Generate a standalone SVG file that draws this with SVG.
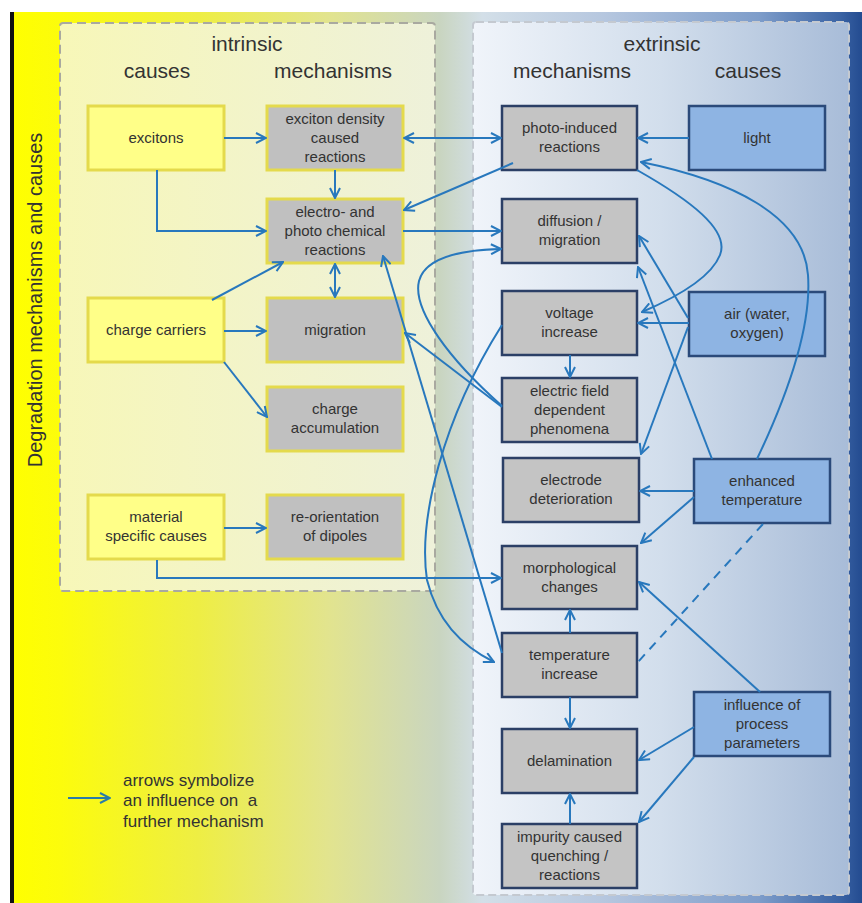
<svg xmlns="http://www.w3.org/2000/svg" width="862" height="903" viewBox="0 0 862 903">
<defs>
<linearGradient id="bg" x1="0" y1="0" x2="862" y2="0" gradientUnits="userSpaceOnUse">
<stop offset="0.016" stop-color="#ffff00"/>
<stop offset="0.07" stop-color="#fcfc0c"/>
<stop offset="0.23" stop-color="#eeee44"/>
<stop offset="0.38" stop-color="#e2e48e"/>
<stop offset="0.51" stop-color="#c9d5c0"/>
<stop offset="0.56" stop-color="#d3dfe8"/>
<stop offset="0.70" stop-color="#b6c7df"/>
<stop offset="0.88" stop-color="#7e9dca"/>
<stop offset="0.975" stop-color="#3a63a4"/>
<stop offset="1" stop-color="#234b90"/>
</linearGradient>
<linearGradient id="inpanel" x1="0" y1="0" x2="1" y2="0">
<stop offset="0" stop-color="#f7f7b8"/>
<stop offset="1" stop-color="#eef1da"/>
</linearGradient>
<linearGradient id="expanel" x1="0" y1="0" x2="1" y2="0">
<stop offset="0" stop-color="#f0f4fa"/>
<stop offset="0.5" stop-color="#d2deec"/>
<stop offset="1" stop-color="#a8bcd8"/>
</linearGradient>
<marker id="ah" viewBox="0 0 12 12" refX="11" refY="6" markerWidth="12" markerHeight="12" markerUnits="userSpaceOnUse" orient="auto-start-reverse">
<path d="M1,1 L11,6 L1,11" fill="none" stroke="#2878bd" stroke-width="2"/>
</marker>
<marker id="ahl" viewBox="0 0 12 12" refX="11" refY="6" markerWidth="12" markerHeight="12" markerUnits="userSpaceOnUse" orient="auto">
<path d="M1,1 L11,6 L1,11" fill="none" stroke="#2a7ca8" stroke-width="2"/>
</marker>
</defs>
<style>
.t{font-family:"Liberation Sans",Arial,sans-serif;font-size:15px;fill:#333;text-anchor:middle}
.h{font-family:"Liberation Sans",Arial,sans-serif;font-size:21px;fill:#333;text-anchor:middle}
.lg{font-family:"Liberation Sans",Arial,sans-serif;font-size:17px;fill:#333}
.ic{fill:#ffff88;stroke:#e4da4c;stroke-width:3}
.im{fill:#c0c0c0;stroke:#e4da4c;stroke-width:3}
.em{fill:#c4c4c4;stroke:#2b3f66;stroke-width:2.5}
.ec{fill:#8eb4e3;stroke:#2b4a7a;stroke-width:2.5}
.c{fill:none;stroke:#2878bd;stroke-width:2;marker-end:url(#ah)}
.d{marker-start:url(#ah)}
</style>
<rect x="0" y="0" width="862" height="903" fill="#ffffff"/>
<rect x="14" y="12" width="848" height="891" fill="url(#bg)"/>
<rect x="10" y="12" width="4" height="891" fill="#111"/>
<text x="42" y="300" transform="rotate(-90 42 300)" style="font-family:'Liberation Sans',Arial,sans-serif;font-size:20px;fill:#333;text-anchor:middle">Degradation mechanisms and causes</text>

<rect x="60" y="23" width="375" height="568" rx="3" fill="url(#inpanel)" stroke="#a9a9a0" stroke-width="2" stroke-dasharray="9 5"/>
<rect x="473" y="22" width="376" height="873" rx="3" fill="url(#expanel)" stroke="#c4c9d0" stroke-width="2" stroke-dasharray="8 4"/>

<text class="h" x="247" y="51">intrinsic</text>
<text class="h" x="157" y="78">causes</text>
<text class="h" x="333" y="78">mechanisms</text>
<text class="h" x="662" y="51">extrinsic</text>
<text class="h" x="572" y="78">mechanisms</text>
<text class="h" x="748" y="78">causes</text>

<g id="excitons"><rect class="ic" x="88" y="106" width="136" height="64"/><text class="t" x="156" y="143">excitons</text></g>
<g id="charge-carriers"><rect class="ic" x="88" y="298" width="136" height="64"/><text class="t" x="156" y="335">charge carriers</text></g>
<g id="material-specific"><rect class="ic" x="88" y="495" width="136" height="64"/><text class="t" x="156" y="522">material</text><text class="t" x="156" y="541">specific causes</text></g>

<g id="exciton-density"><rect class="im" x="267" y="106" width="136" height="64"/><text class="t" x="335" y="124">exciton density</text><text class="t" x="335" y="143">caused</text><text class="t" x="335" y="162">reactions</text></g>
<g id="electro-photo"><rect class="im" x="267" y="199" width="136" height="64"/><text class="t" x="335" y="217">electro- and</text><text class="t" x="335" y="236">photo chemical</text><text class="t" x="335" y="255">reactions</text></g>
<g id="migration"><rect class="im" x="267" y="298" width="136" height="64"/><text class="t" x="335" y="335">migration</text></g>
<g id="charge-accumulation"><rect class="im" x="267" y="387" width="136" height="64"/><text class="t" x="335" y="414">charge</text><text class="t" x="335" y="433">accumulation</text></g>
<g id="re-orientation"><rect class="im" x="267" y="495" width="136" height="64"/><text class="t" x="335" y="522">re-orientation</text><text class="t" x="335" y="541">of dipoles</text></g>

<g id="photo-induced"><rect class="em" x="502" y="106" width="135" height="64"/><text class="t" x="569.5" y="133">photo-induced</text><text class="t" x="569.5" y="152">reactions</text></g>
<g id="diffusion"><rect class="em" x="502" y="199" width="135" height="64"/><text class="t" x="569.5" y="226">diffusion /</text><text class="t" x="569.5" y="245">migration</text></g>
<g id="voltage-increase"><rect class="em" x="502" y="291" width="135" height="64"/><text class="t" x="569.5" y="318">voltage</text><text class="t" x="569.5" y="337">increase</text></g>
<g id="electric-field"><rect class="em" x="502" y="378" width="135" height="64"/><text class="t" x="569.5" y="396">electric field</text><text class="t" x="569.5" y="415">dependent</text><text class="t" x="569.5" y="434">phenomena</text></g>
<g id="electrode"><rect class="em" x="503" y="458" width="136" height="64"/><text class="t" x="571" y="485">electrode</text><text class="t" x="571" y="504">deterioration</text></g>
<g id="morphological"><rect class="em" x="502" y="546" width="135" height="63"/><text class="t" x="569.5" y="573">morphological</text><text class="t" x="569.5" y="592">changes</text></g>
<g id="temperature-increase"><rect class="em" x="502" y="633" width="135" height="64"/><text class="t" x="569.5" y="660">temperature</text><text class="t" x="569.5" y="679">increase</text></g>
<g id="delamination"><rect class="em" x="502" y="729" width="135" height="64"/><text class="t" x="569.5" y="766">delamination</text></g>
<g id="impurity"><rect class="em" x="502" y="824" width="135" height="64"/><text class="t" x="569.5" y="842">impurity caused</text><text class="t" x="569.5" y="861">quenching /</text><text class="t" x="569.5" y="880">reactions</text></g>

<g id="light"><rect class="ec" x="689" y="106" width="136" height="64"/><text class="t" x="757" y="143">light</text></g>
<g id="air"><rect class="ec" x="689" y="292" width="136" height="64"/><text class="t" x="757" y="319">air (water,</text><text class="t" x="757" y="338">oxygen)</text></g>
<g id="enhanced-temperature"><rect class="ec" x="694" y="459" width="136" height="64"/><text class="t" x="762" y="486">enhanced</text><text class="t" x="762" y="505">temperature</text></g>
<g id="process-parameters"><rect class="ec" x="694" y="692" width="136" height="64"/><text class="t" x="762" y="710">influence of</text><text class="t" x="762" y="729">process</text><text class="t" x="762" y="748">parameters</text></g>

<g id="connectors">
<path class="c" d="M224 138 H266"/>
<path class="c" d="M335 170 V198"/>
<path class="c" d="M157 170 V231 H266"/>
<path class="c" d="M212 300 L283 262"/>
<path class="c d" d="M335 264 V297"/>
<path class="c" d="M224 331 H266"/>
<path class="c" d="M224 362 L267 417"/>
<path class="c" d="M224 528 H266"/>
<path class="c" d="M157 560 V578 H501"/>
<path class="c d" d="M404 138 H501"/>
<path class="c" d="M513 163 L404 210"/>
<path class="c" d="M403 231 H501"/>
<path class="c" d="M502 406 C450 360, 412 310, 419 281 C425 258, 460 250, 501 249"/>
<path class="c" d="M502 407 L405 333"/>
<path class="c" d="M502 653 L383 256"/>
<path class="c" d="M502 325 C442 420, 418 520, 427 580 C437 620, 460 645, 494 662"/>
<path class="c" d="M689 138 H638"/>
<path class="c" d="M757 459 C785 400, 812 330, 808 275 C804 215, 730 180, 641 162"/>
<path class="c" d="M637 170 C690 200, 730 230, 720 255 C710 280, 670 300, 642 312"/>
<path class="c" d="M689 323 H638"/>
<path class="c" d="M688 318 L639 236"/>
<path class="c" d="M712 459 L638 267"/>
<path class="c" d="M688 327 L641 454"/>
<path class="c" d="M694 491 H640"/>
<path class="c" d="M694 497 L641 543"/>
<path d="M763 524 L638 662" fill="none" stroke="#2878bd" stroke-width="2" stroke-dasharray="9 7"/>
<path class="c" d="M760 692 L639 582"/>
<path class="c" d="M694 727 L639 760"/>
<path class="c" d="M694 757 L639 822"/>
<path class="c" d="M570 633 V610"/>
<path class="c" d="M570 697 V728"/>
<path class="c" d="M570 824 V794"/>
<path class="c" d="M570 355 V377"/>
</g>

<g id="legend">
<path d="M68 798 H110" fill="none" stroke="#2a7ca8" stroke-width="2" marker-end="url(#ahl)"/>
<text class="lg" x="123" y="786">arrows symbolize</text>
<text class="lg" x="123" y="806" xml:space="preserve">an influence on  a</text>
<text class="lg" x="123" y="827">further mechanism</text>
</g>
</svg>
